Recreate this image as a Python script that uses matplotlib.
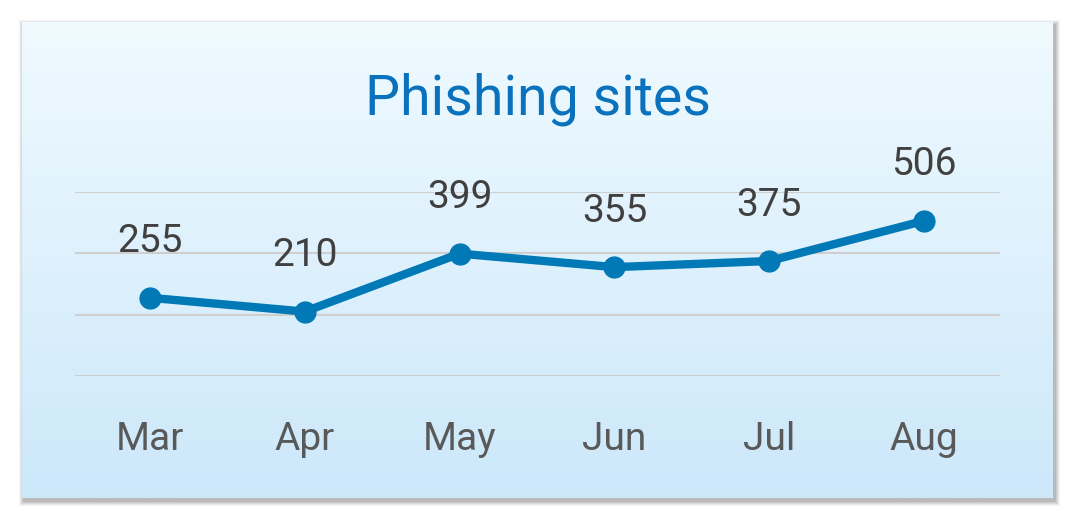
import matplotlib.pyplot as plt
import numpy as np
from matplotlib.patches import Rectangle

months = ["Mar", "Apr", "May", "Jun", "Jul", "Aug"]
sites = [255, 210, 399, 355, 375, 506]

W, H = 1075, 522
fig = plt.figure(figsize=(W / 100, H / 100), dpi=100)
fig.patch.set_facecolor("white")

# card with soft shadow
bg = fig.add_axes([0, 0, 1, 1])
bg.set_xlim(0, W)
bg.set_ylim(H, 0)
bg.axis("off")
for i, a in enumerate([0.04, 0.05, 0.06, 0.07, 0.08]):
    g = 5 - i
    bg.add_patch(Rectangle((22 - g + 2, 22 - g + 3), 1031 + 2 * g, 476 + 2 * g,
                           facecolor="black", alpha=a, edgecolor="none"))
grad = np.linspace(0, 1, 256).reshape(-1, 1)
top = np.array([0.94, 0.98, 1.0])
bot = np.array([0.80, 0.91, 0.98])
img = top + grad[..., None] * (bot - top)
bg.imshow(img, extent=(22, 1053, 498, 22), aspect="auto", zorder=2)

plt.rcParams["font.family"] = ["Roboto", "DejaVu Sans"]
fig.text(538 / W, 1 - 99 / H, "Phishing sites", ha="center", va="center",
         fontsize=40, color="#0a72bd")

ax = fig.add_axes([75 / W, (H - 376) / H, 925 / W, 184 / H])
ax.patch.set_alpha(0)
x = np.arange(len(months))
ax.set_xlim(-75 / 154.8, 5 + 76 / 154.8)
ax.set_ylim(0, 600)
for yv in [0, 200, 400, 600]:
    ax.axhline(yv, color="#cfcfcf", lw=1.5, zorder=1)
ax.plot(x, sites, color="#0079b6", lw=6, marker="o", ms=15, zorder=3,
        solid_capstyle="round")
for xi, v in zip(x, sites):
    ax.annotate(str(v), (xi, v), xytext=(0, 56), textcoords="offset pixels",
                ha="center", va="center", fontsize=28, color="#404040")
for xi, m in zip(x, months):
    ax.annotate(m, (xi, 0), xytext=(0, -64), textcoords="offset pixels",
                ha="center", va="center", fontsize=28, color="#595959")
for s in ax.spines.values():
    s.set_visible(False)
ax.set_xticks([])
ax.set_yticks([])

fig.savefig("out.png", dpi=100)
